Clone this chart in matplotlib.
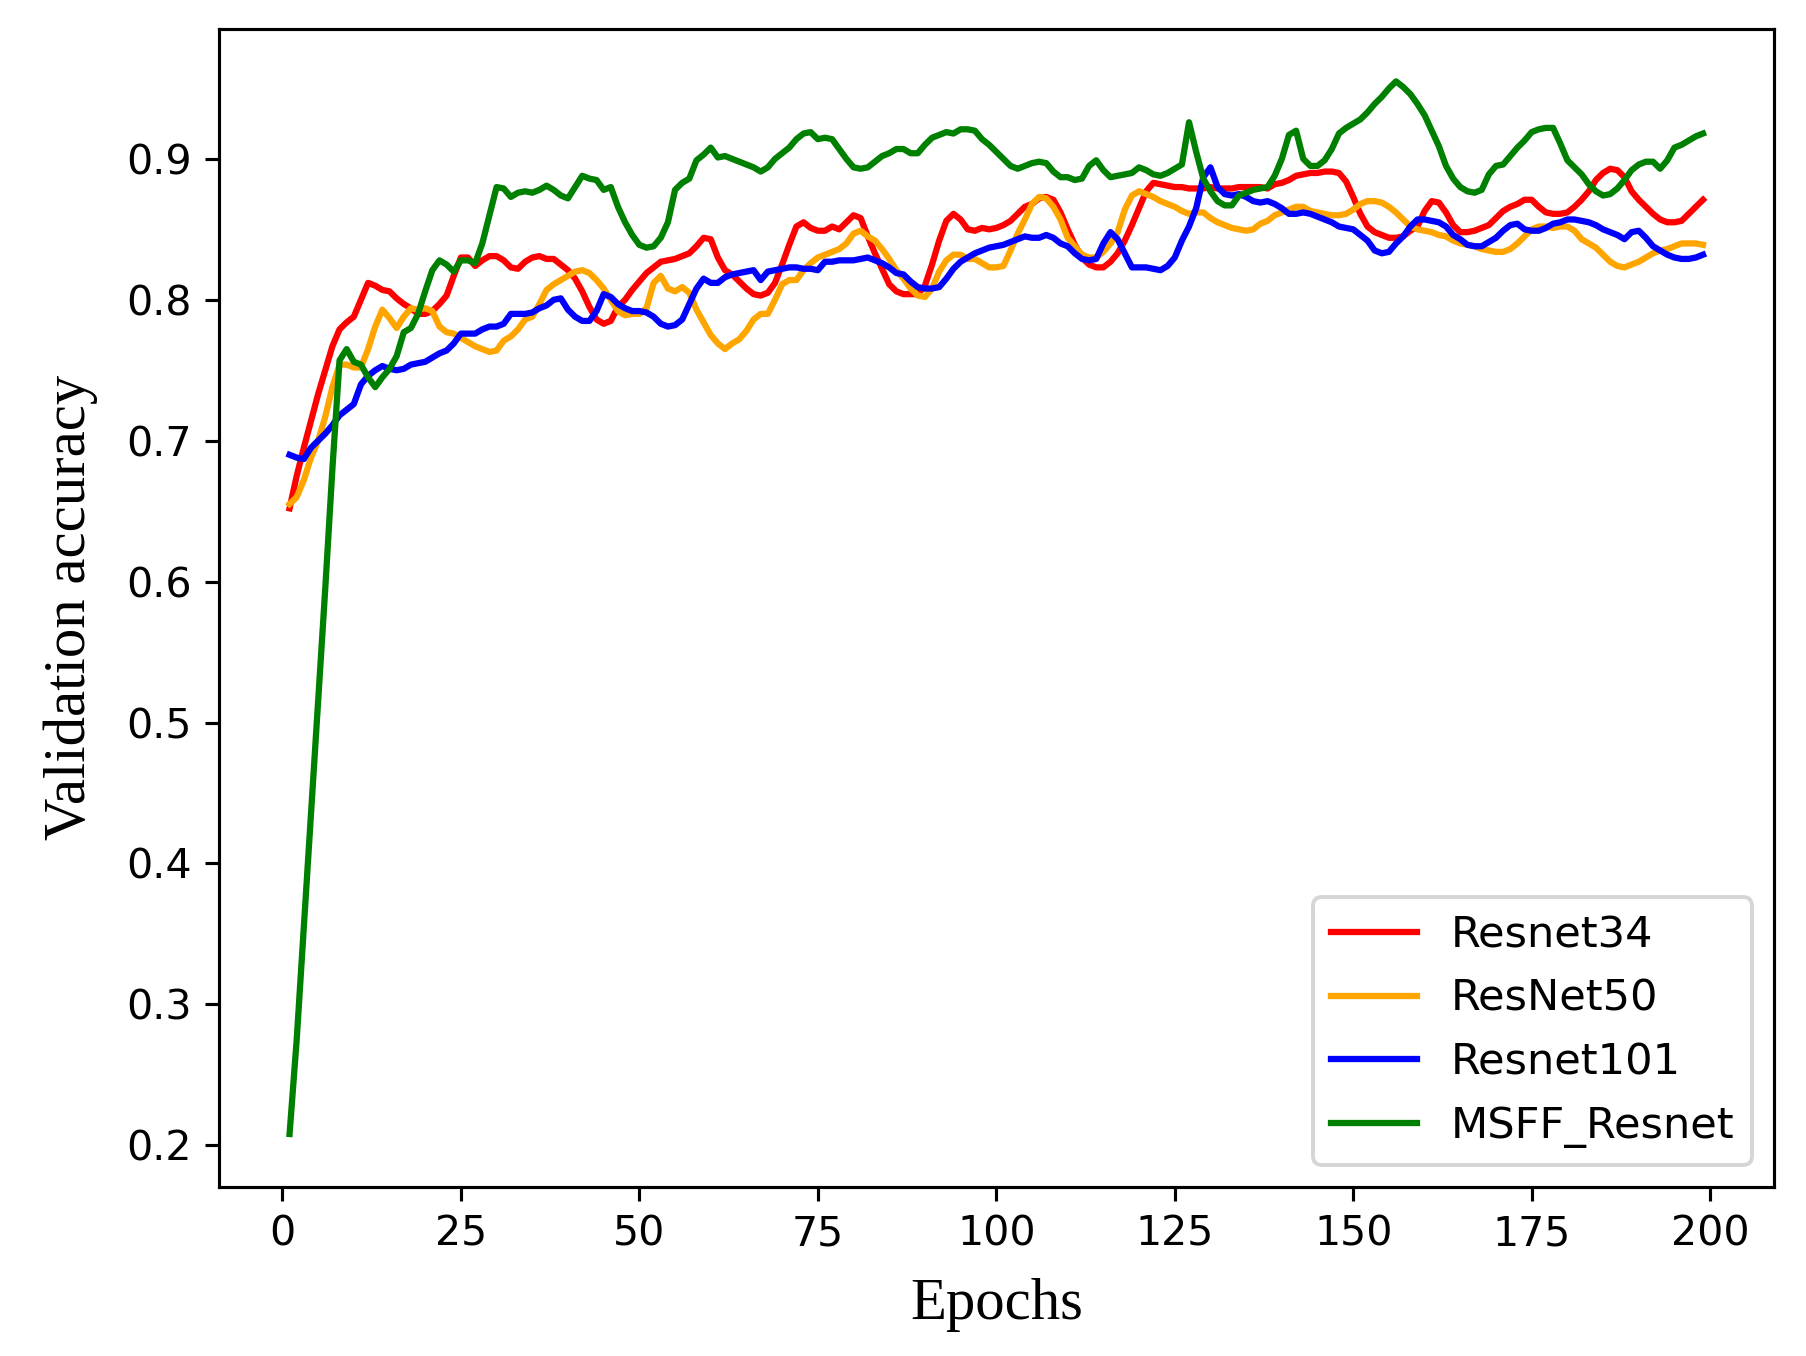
import matplotlib
matplotlib.use("Agg")
import matplotlib.pyplot as plt
import numpy as np

epochs = list(range(1, 200))

resnet34 = [
    0.652, 0.675, 0.695, 0.714, 0.733, 0.750, 0.767, 0.779, 0.784, 0.788,
    0.800, 0.812, 0.810, 0.807, 0.806, 0.801, 0.797, 0.794, 0.790, 0.790,
    0.792, 0.797, 0.803, 0.817, 0.830, 0.830, 0.824, 0.828, 0.831, 0.831,
    0.828, 0.823, 0.822, 0.827, 0.830, 0.831, 0.829, 0.829, 0.825, 0.821,
    0.815, 0.806, 0.795, 0.786, 0.783, 0.785, 0.795, 0.800, 0.807, 0.813,
    0.819, 0.823, 0.827, 0.828, 0.829, 0.831, 0.833, 0.838, 0.844, 0.843,
    0.830, 0.821, 0.818, 0.813, 0.808, 0.804, 0.803, 0.805, 0.812, 0.825,
    0.839, 0.852, 0.855, 0.851, 0.849, 0.849, 0.852, 0.850, 0.855, 0.860,
    0.858, 0.845, 0.833, 0.822, 0.811, 0.806, 0.804, 0.804, 0.804, 0.810,
    0.825, 0.842, 0.856, 0.861, 0.857, 0.850, 0.849, 0.851, 0.850, 0.851,
    0.853, 0.856, 0.861, 0.866, 0.868, 0.872, 0.873, 0.871, 0.862, 0.850,
    0.839, 0.830, 0.825, 0.823, 0.823, 0.827, 0.833, 0.842, 0.853, 0.865,
    0.877, 0.883, 0.882, 0.881, 0.880, 0.880, 0.879, 0.879, 0.879, 0.880,
    0.879, 0.879, 0.879, 0.880, 0.880, 0.880, 0.880, 0.879, 0.882, 0.883,
    0.885, 0.888, 0.889, 0.890, 0.890, 0.891, 0.891, 0.890, 0.884, 0.873,
    0.861, 0.852, 0.848, 0.846, 0.844, 0.844, 0.845, 0.849, 0.852, 0.863,
    0.870, 0.869, 0.862, 0.853, 0.848, 0.848, 0.849, 0.851, 0.853, 0.858,
    0.863, 0.866, 0.868, 0.871, 0.871, 0.866, 0.862, 0.861, 0.861, 0.862,
    0.866, 0.871, 0.877, 0.885, 0.890, 0.893, 0.892, 0.887, 0.877, 0.871,
    0.866, 0.861, 0.857, 0.855, 0.855, 0.856, 0.861, 0.866, 0.871,
]

resnet50 = [
    0.655, 0.660, 0.672, 0.688, 0.700, 0.717, 0.738, 0.754, 0.754, 0.752,
    0.752, 0.765, 0.781, 0.793, 0.787, 0.780, 0.788, 0.794, 0.793, 0.794,
    0.792, 0.781, 0.777, 0.776, 0.773, 0.770, 0.767, 0.765, 0.763, 0.764,
    0.771, 0.774, 0.779, 0.786, 0.788, 0.797, 0.807, 0.811, 0.814, 0.817,
    0.820, 0.821, 0.819, 0.814, 0.808, 0.800, 0.792, 0.789, 0.790, 0.790,
    0.794, 0.812, 0.817, 0.808, 0.806, 0.809, 0.805, 0.793, 0.784, 0.775,
    0.769, 0.765, 0.769, 0.772, 0.778, 0.786, 0.790, 0.790, 0.800, 0.811,
    0.814, 0.814, 0.821, 0.826, 0.830, 0.832, 0.834, 0.836, 0.840, 0.847,
    0.849, 0.845, 0.842, 0.836, 0.829, 0.821, 0.815, 0.808, 0.803, 0.802,
    0.808, 0.820, 0.828, 0.832, 0.832, 0.829, 0.829, 0.826, 0.823, 0.823,
    0.824, 0.835, 0.847, 0.857, 0.868, 0.873, 0.872, 0.866, 0.857, 0.844,
    0.838, 0.832, 0.830, 0.830, 0.834, 0.840, 0.848, 0.864, 0.874, 0.877,
    0.875, 0.873, 0.870, 0.868, 0.866, 0.863, 0.861, 0.862, 0.862, 0.858,
    0.855, 0.853, 0.851, 0.850, 0.849, 0.850, 0.854, 0.856, 0.860, 0.862,
    0.864, 0.866, 0.866, 0.863, 0.862, 0.861, 0.860, 0.860, 0.861, 0.864,
    0.868, 0.870, 0.870, 0.869, 0.866, 0.862, 0.857, 0.852, 0.850, 0.849,
    0.848, 0.846, 0.845, 0.842, 0.840, 0.839, 0.838, 0.836, 0.835, 0.834,
    0.834, 0.836, 0.840, 0.845, 0.850, 0.852, 0.852, 0.851, 0.852, 0.852,
    0.849, 0.843, 0.840, 0.837, 0.832, 0.827, 0.824, 0.823, 0.825, 0.827,
    0.830, 0.833, 0.835, 0.836, 0.838, 0.840, 0.840, 0.840, 0.839,
]

resnet101 = [
    0.690, 0.688, 0.687, 0.695, 0.700, 0.705, 0.711, 0.718, 0.722, 0.726,
    0.740, 0.746, 0.750, 0.753, 0.751, 0.750, 0.751, 0.754, 0.755, 0.756,
    0.759, 0.762, 0.764, 0.769, 0.776, 0.776, 0.776, 0.779, 0.781, 0.781,
    0.783, 0.790, 0.790, 0.790, 0.791, 0.794, 0.796, 0.800, 0.801, 0.793,
    0.788, 0.785, 0.785, 0.792, 0.804, 0.802, 0.797, 0.794, 0.792, 0.792,
    0.791, 0.788, 0.783, 0.781, 0.782, 0.786, 0.797, 0.808, 0.815, 0.812,
    0.812, 0.816, 0.818, 0.819, 0.820, 0.821, 0.814, 0.820, 0.821, 0.822,
    0.823, 0.823, 0.822, 0.822, 0.821, 0.827, 0.827, 0.828, 0.828, 0.828,
    0.829, 0.830, 0.828, 0.826, 0.823, 0.819, 0.818, 0.813, 0.809, 0.808,
    0.808, 0.809, 0.815, 0.822, 0.827, 0.830, 0.833, 0.835, 0.837, 0.838,
    0.839, 0.841, 0.843, 0.845, 0.844, 0.844, 0.846, 0.844, 0.840, 0.838,
    0.833, 0.829, 0.828, 0.829, 0.840, 0.848, 0.843, 0.833, 0.823, 0.823,
    0.823, 0.822, 0.821, 0.824, 0.830, 0.842, 0.852, 0.865, 0.887, 0.894,
    0.880, 0.875, 0.874, 0.875, 0.873, 0.870, 0.869, 0.870, 0.868, 0.865,
    0.861, 0.861, 0.862, 0.861, 0.859, 0.857, 0.855, 0.852, 0.851, 0.850,
    0.846, 0.842, 0.835, 0.833, 0.834, 0.840, 0.845, 0.852, 0.857, 0.857,
    0.856, 0.855, 0.852, 0.846, 0.843, 0.839, 0.838, 0.838, 0.841, 0.844,
    0.849, 0.853, 0.854, 0.850, 0.849, 0.849, 0.851, 0.854, 0.855, 0.857,
    0.857, 0.856, 0.855, 0.853, 0.850, 0.848, 0.846, 0.843, 0.848, 0.849,
    0.844, 0.838, 0.835, 0.832, 0.830, 0.829, 0.829, 0.830, 0.832,
]

msff_resnet = [
    0.208, 0.275, 0.355, 0.435, 0.515, 0.595, 0.680, 0.757, 0.765, 0.756,
    0.754, 0.745, 0.738, 0.745, 0.751, 0.760, 0.777, 0.780, 0.790, 0.806,
    0.821, 0.828, 0.825, 0.820, 0.828, 0.828, 0.826, 0.840, 0.860, 0.880,
    0.879, 0.873, 0.876, 0.877, 0.876, 0.878, 0.881, 0.878, 0.874, 0.872,
    0.880, 0.888, 0.886, 0.885, 0.878, 0.880, 0.866, 0.855, 0.846, 0.839,
    0.837, 0.838, 0.844, 0.855, 0.878, 0.883, 0.886, 0.899, 0.903, 0.908,
    0.901, 0.902, 0.900, 0.898, 0.896, 0.894, 0.891, 0.894, 0.900, 0.904,
    0.908, 0.914, 0.918, 0.919, 0.914, 0.915, 0.914, 0.907, 0.900, 0.894,
    0.893, 0.894, 0.898, 0.902, 0.904, 0.907, 0.907, 0.904, 0.904, 0.910,
    0.915, 0.917, 0.919, 0.918, 0.921, 0.921, 0.920, 0.914, 0.910, 0.905,
    0.900, 0.895, 0.893, 0.895, 0.897, 0.898, 0.897, 0.891, 0.887, 0.887,
    0.885, 0.886, 0.895, 0.899, 0.892, 0.887, 0.888, 0.889, 0.890, 0.894,
    0.892, 0.889, 0.888, 0.890, 0.893, 0.896, 0.926, 0.905, 0.886, 0.877,
    0.870, 0.867, 0.867, 0.874, 0.876, 0.878, 0.879, 0.880, 0.888, 0.900,
    0.917, 0.920, 0.900, 0.895, 0.895, 0.899, 0.907, 0.918, 0.922, 0.925,
    0.928, 0.933, 0.939, 0.944, 0.950, 0.955, 0.951, 0.946, 0.939, 0.931,
    0.920, 0.909, 0.895, 0.886, 0.880, 0.877, 0.876, 0.878, 0.889, 0.895,
    0.896, 0.902, 0.908, 0.913, 0.919, 0.921, 0.922, 0.922, 0.911, 0.899,
    0.894, 0.889, 0.882, 0.877, 0.874, 0.875, 0.879, 0.885, 0.892, 0.896,
    0.898, 0.898, 0.893, 0.899, 0.908, 0.910, 0.913, 0.916, 0.918,
]

series_names = ["Resnet34", "ResNet50", "Resnet101", "MSFF_Resnet"]
series_colors = ["red", "orange", "blue", "green"]

DPI = 282.1875
fig = plt.figure(figsize=(1806 / DPI, 1356 / DPI), dpi=DPI)
ax = fig.add_axes([0.1212, 0.1249, 0.9821 - 0.1212, 0.9788 - 0.1249])

for vals, name, col in zip([resnet34, resnet50, resnet101, msff_resnet],
                           series_names, series_colors):
    ax.plot(epochs, vals, color=col, linewidth=1.6, label=name)

ax.tick_params(labelsize=10.5)
ax.set_xlabel("Epochs", fontsize=15, family="Liberation Serif", labelpad=6)
ax.set_ylabel("Validation accuracy", fontsize=15, family="Liberation Serif",
              labelpad=7)
ax.legend(loc="lower right", fontsize=11)

fig.savefig("out.png", dpi=DPI)
